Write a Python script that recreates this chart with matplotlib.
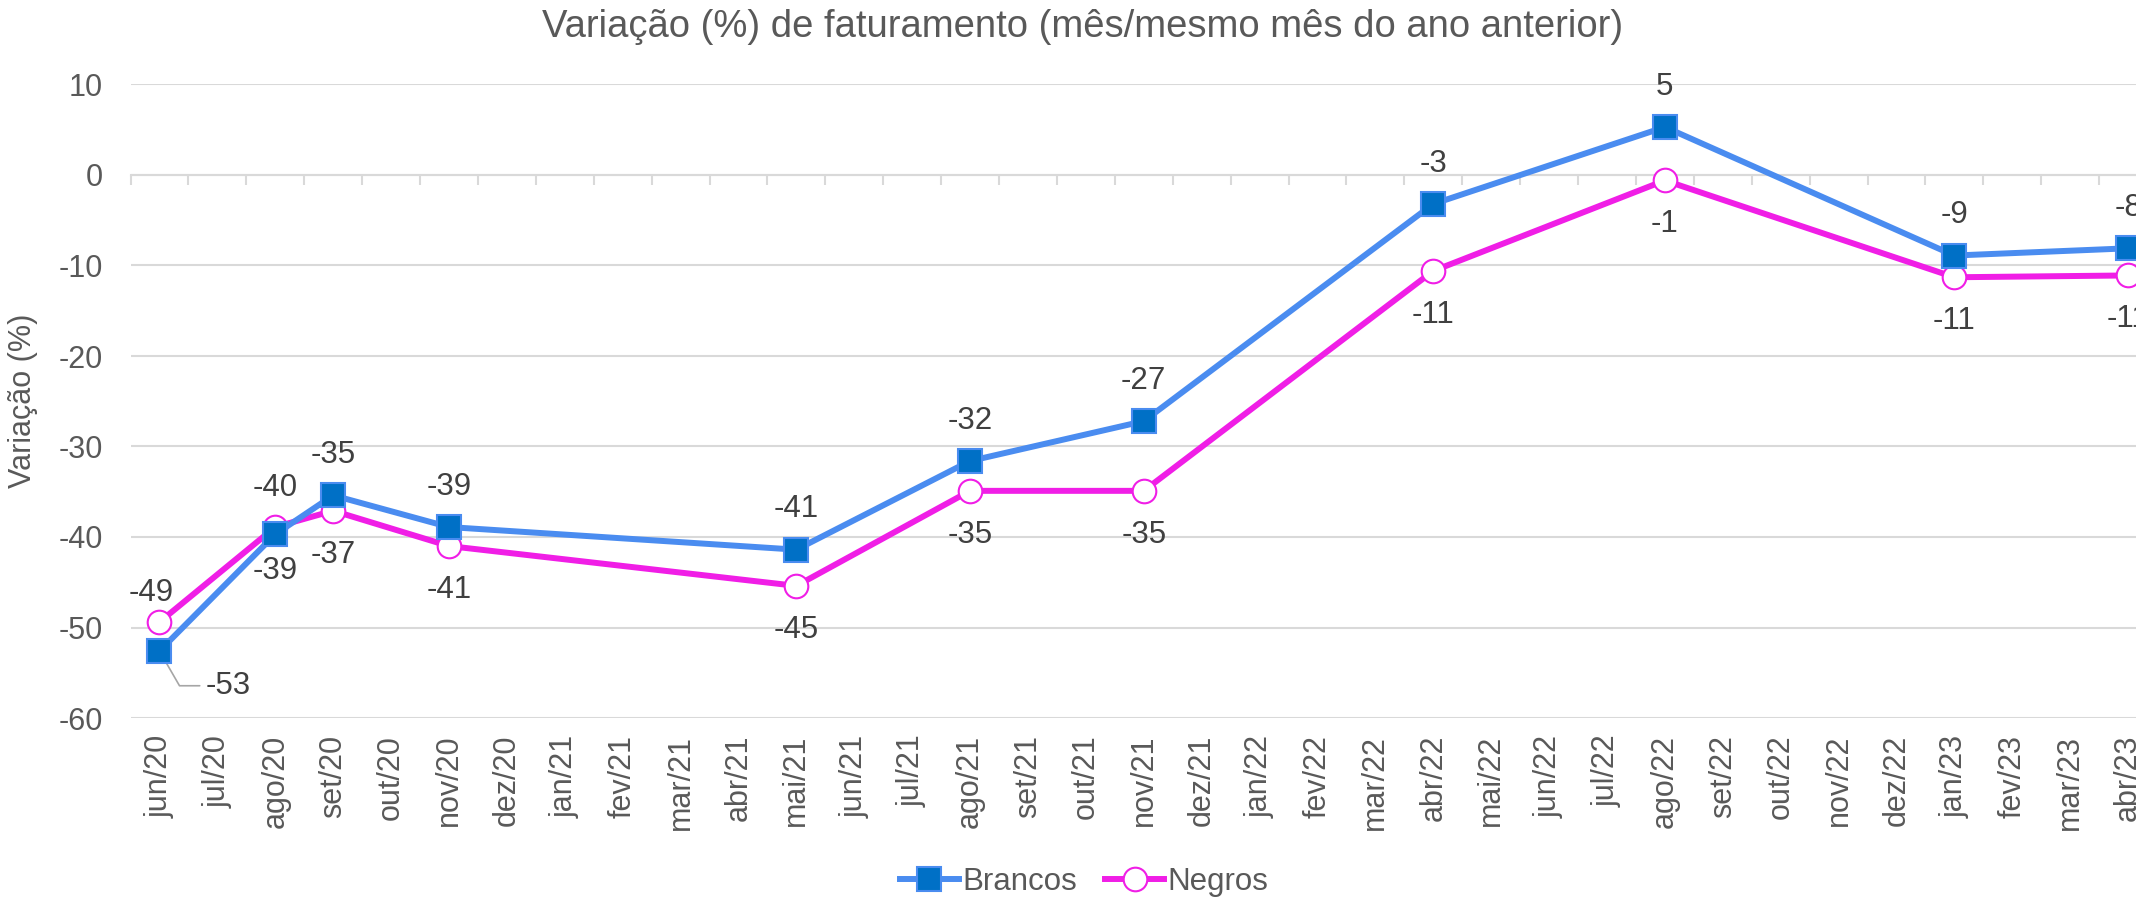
import matplotlib
matplotlib.use("Agg")
import matplotlib.pyplot as plt
import numpy as np

plt.rcParams['font.family'] = ['Liberation Sans', 'DejaVu Sans']
plt.rcParams['axes.unicode_minus'] = False

# months on the category axis
months = ['jun/20', 'jul/20', 'ago/20', 'set/20', 'out/20', 'nov/20', 'dez/20',
          'jan/21', 'fev/21', 'mar/21', 'abr/21', 'mai/21', 'jun/21', 'jul/21',
          'ago/21', 'set/21', 'out/21', 'nov/21', 'dez/21', 'jan/22', 'fev/22',
          'mar/22', 'abr/22', 'mai/22', 'jun/22', 'jul/22', 'ago/22', 'set/22',
          'out/22', 'nov/22', 'dez/22', 'jan/23', 'fev/23', 'mar/23', 'abr/23']

# months that have survey values
point_months = ['jun/20', 'ago/20', 'set/20', 'nov/20', 'mai/21', 'ago/21',
                'nov/21', 'abr/22', 'ago/22', 'jan/23', 'abr/23']
brancos = [-52.6, -39.7, -35.4, -38.9, -41.4, -31.6, -27.2, -3.2, 5.3, -8.9, -8.1]
negros = [-49.4, -38.9, -37.1, -41.0, -45.4, -34.9, -34.9, -10.6, -0.6, -11.3, -11.1]

title = 'Variação (%) de faturamento (mês/mesmo mês do ano anterior)'

blue_line = '#4A8CF0'
blue_face = '#0070C6'
magenta = '#F01EE6'
grey_text = '#595959'
label_text = '#404040'
grid_col = '#D9D9D9'

W, H = 2136, 897
fig = plt.figure(figsize=(W / 100, H / 100), dpi=100)
# plot area runs slightly past the right edge, as in the original crop
ax = fig.add_axes([130.5 / W, 1 - 718 / H, 35 * 57.9 / W, (718 - 84.5) / H])

xpos = [months.index(m) for m in point_months]

ax.plot(xpos, brancos, color=blue_line, lw=4.3, marker='s', ms=17,
        mfc=blue_face, mec=blue_line, mew=1.5, label='Brancos', zorder=4,
        clip_on=False)
ax.plot(xpos, negros, color=magenta, lw=4.3, marker='o', ms=17,
        mfc='white', mec=magenta, mew=1.5, label='Negros', zorder=3,
        clip_on=False)

ax.set_xlim(-0.5, len(months) - 0.5)
ax.set_ylim(-60, 10)
ax.set_yticks(np.arange(-60, 11, 10))
ax.set_xticks(np.arange(len(months)))
ax.set_xticklabels(months)
ax.set_xticks(np.arange(-0.5, len(months), 1), minor=True)

ax.grid(axis='y', color=grid_col, lw=1.5)
ax.set_axisbelow(True)
for s in ['left', 'right', 'bottom']:
    ax.spines[s].set_visible(False)
# category axis line crosses at zero, labels stay at the bottom
ax.spines['top'].set_position(('data', 0))
ax.spines['top'].set_color(grid_col)
ax.spines['top'].set_linewidth(1.5)

ax.tick_params(axis='y', length=0, pad=20, labelsize=22, labelcolor=grey_text)
ax.tick_params(axis='x', which='major', length=0, pad=12, labelsize=22,
               labelcolor=grey_text, top=False, labelrotation=90)
ax.tick_params(axis='x', which='minor', top=True, bottom=False, direction='in',
               length=7, width=1.5, color=grid_col)

ax.set_ylabel('Variação (%)', fontsize=22, color=grey_text)
ax.yaxis.set_label_coords(-0.0456, 0.5)

# data labels
for x, v, m in zip(xpos, brancos, point_months):
    if m == 'jun/20':
        ax.annotate(f'{v:.0f}', (x, v), xytext=(33, -25), textcoords='offset points',
                    ha='left', va='center', fontsize=22.5, color=label_text,
                    arrowprops=dict(arrowstyle='-', color='#A6A6A6', lw=1.2,
                                    shrinkA=2, shrinkB=0,
                                    connectionstyle='angle,angleA=180,angleB=-60,rad=0'))
        continue
    dy = 33 if m == 'ago/20' else 29
    ax.annotate(f'{v:.0f}', (x, v), xytext=(0, dy), textcoords='offset points',
                ha='center', va='center', fontsize=22.5, color=label_text)

for x, v, m in zip(xpos, negros, point_months):
    if m == 'jun/20':
        ax.annotate(f'{v:.0f}', (x, v), xytext=(-6, 21), textcoords='offset points',
                    ha='center', va='center', fontsize=22.5, color=label_text)
        continue
    ax.annotate(f'{v:.0f}', (x, v), xytext=(0, -31.5), textcoords='offset points',
                ha='center', va='center', fontsize=22.5, color=label_text)

fig.text(1083 / W, 1 - 27 / H, title, ha='center', va='center',
         fontsize=27.5, color=grey_text)

fig.legend(loc='center', bbox_to_anchor=(1084 / W, 1 - 882 / H), ncol=2,
           frameon=False, fontsize=22.5, labelcolor=grey_text, handlelength=1.9,
           handletextpad=0.1, columnspacing=0.9, borderaxespad=0)

fig.savefig('out.png', dpi=100)
